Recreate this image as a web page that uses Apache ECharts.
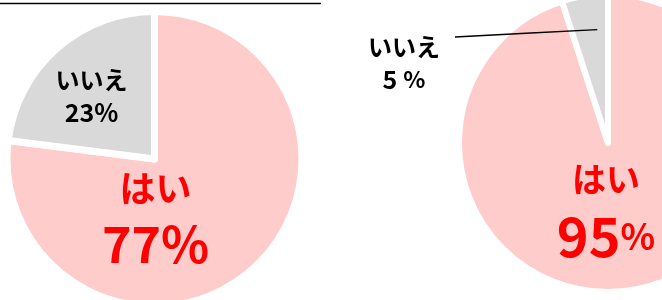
<!DOCTYPE html>
<html>
<head>
<meta charset="utf-8">
<script src="https://cdn.jsdelivr.net/npm/echarts@6/dist/echarts.min.js"></script>
<style>
  html, body { margin: 0; padding: 0; background: #fff; }
  #chart { width: 662px; height: 300px; }
</style>
</head>
<body>
<div id="chart"></div>
<script>
const answers = ['はい', 'いいえ'];
const leftValues = [77, 23];
const rightValues = [95, 5];
const sliceColors = ['#FFCCCC', '#D9D9D9'];

const FONT = "'Noto Sans CJK JP', 'Noto Sans', sans-serif";

// 右の円の位置（ラベル線の計算用）
const rightCenter = [608, 143];
const rightRadius = 149;
const noLabelPos = [404, 63];

const chart = echarts.init(document.getElementById('chart'));

function toData(values, colors) {
  return answers.map((name, i) => ({
    name: name,
    value: values[i],
    itemStyle: { color: colors[i] }
  }));
}

const leftData = toData(leftValues, sliceColors);
leftData[0].label = {
  position: 'center',
  offset: [1, 60],
  formatter: '{n|{b}}\n{v|{c}%}',
  rich: {
    n: { fontFamily: FONT, fontWeight: 'bold', fontSize: 36, color: '#FF0000', lineHeight: 50 },
    v: { fontFamily: FONT, fontWeight: 'bold', fontSize: 50, color: '#FF0000', lineHeight: 62 }
  }
};
leftData[1].label = {
  position: 'center',
  offset: [-63, -63],
  formatter: '{n|{b}}\n{v|{c}%}',
  rich: {
    n: { fontFamily: FONT, fontWeight: 'bold', fontSize: 24, color: '#000', lineHeight: 33 },
    v: { fontFamily: FONT, fontWeight: 'bold', fontSize: 25, color: '#000', lineHeight: 33 }
  }
};

const rightData = toData(rightValues, sliceColors);
rightData[0].label = {
  position: 'center',
  offset: [-2, 68],
  formatter: '{n|{b}}\n{v|{c}}{p|%}',
  rich: {
    n: { fontFamily: FONT, fontWeight: 'bold', fontSize: 34, color: '#FF0000', lineHeight: 50 },
    v: { fontFamily: FONT, fontWeight: 'bold', fontSize: 54, color: '#FF0000', lineHeight: 64 },
    p: { fontFamily: FONT, fontWeight: 'bold', fontSize: 36, color: '#FF0000', lineHeight: 64 }
  }
};
rightData[1].label = { show: false };

// 「いいえ 5%」のラベルと線は透明な円を上に重ねて描く（線が扇形に隠れないように）
const rightOverlay = toData(rightValues, ['rgba(0,0,0,0)', 'rgba(0,0,0,0)']);
rightOverlay[0].label = { show: false };
rightOverlay[1].label = {
  show: true,
  position: 'outside',
  formatter: '{n|{b}}\n{v|{c}}{p|%}',
  rich: {
    n: { fontFamily: FONT, fontWeight: 'bold', fontSize: 24, color: '#000', lineHeight: 32 },
    v: { fontFamily: FONT, fontWeight: 'bold', fontSize: 25, color: '#000', lineHeight: 32 },
    p: { fontFamily: FONT, fontWeight: 'bold', fontSize: 23, color: '#000', lineHeight: 32, padding: [0, 0, 0, 6] }
  }
};
rightOverlay[1].labelLine = { show: true, lineStyle: { color: '#000', width: 1.5 } };

const option = {
  backgroundColor: '#fff',
  animation: false,
  graphic: [
    {
      type: 'line',
      shape: { x1: 0, y1: 3.5, x2: 321, y2: 3.5 },
      style: { stroke: '#000', lineWidth: 1.5 }
    }
  ],
  series: [
    {
      type: 'pie',
      center: [154.5, 159],
      radius: 147.5,
      startAngle: 90,
      clockwise: true,
      avoidLabelOverlap: false,
      silent: true,
      itemStyle: { borderColor: '#fff', borderWidth: 7 },
      labelLine: { show: false },
      data: leftData
    },
    {
      type: 'pie',
      center: rightCenter,
      radius: rightRadius,
      startAngle: 90,
      clockwise: true,
      avoidLabelOverlap: false,
      silent: true,
      itemStyle: { borderColor: '#fff', borderWidth: 6 },
      labelLine: { show: false },
      data: rightData
    },
    {
      type: 'pie',
      z: 5,
      center: rightCenter,
      radius: rightRadius,
      startAngle: 90,
      clockwise: true,
      avoidLabelOverlap: false,
      silent: true,
      itemStyle: { borderWidth: 0 },
      labelLine: { show: false },
      labelLayout: function (p) {
        if (p.dataIndex !== 1) return {};
        // ラベル線の先端は「いいえ」の扇形の中
        const total = rightValues.reduce((a, b) => a + b, 0);
        const slice = rightValues[1] / total * 360;
        const ang = (90 + slice * 0.3) * Math.PI / 180;
        const r = (rightRadius - 3) * 0.78;
        const tip = [rightCenter[0] + r * Math.cos(ang), rightCenter[1] - r * Math.sin(ang)];
        const start = [noLabelPos[0] + 51, noLabelPos[1] - 26];
        const mid = [(start[0] + tip[0]) / 2, (start[1] + tip[1]) / 2];
        return {
          x: noLabelPos[0],
          y: noLabelPos[1],
          align: 'center',
          verticalAlign: 'middle',
          labelLinePoints: [tip, mid, start]
        };
      },
      data: rightOverlay
    }
  ]
};

chart.setOption(option);
</script>
</body>
</html>
